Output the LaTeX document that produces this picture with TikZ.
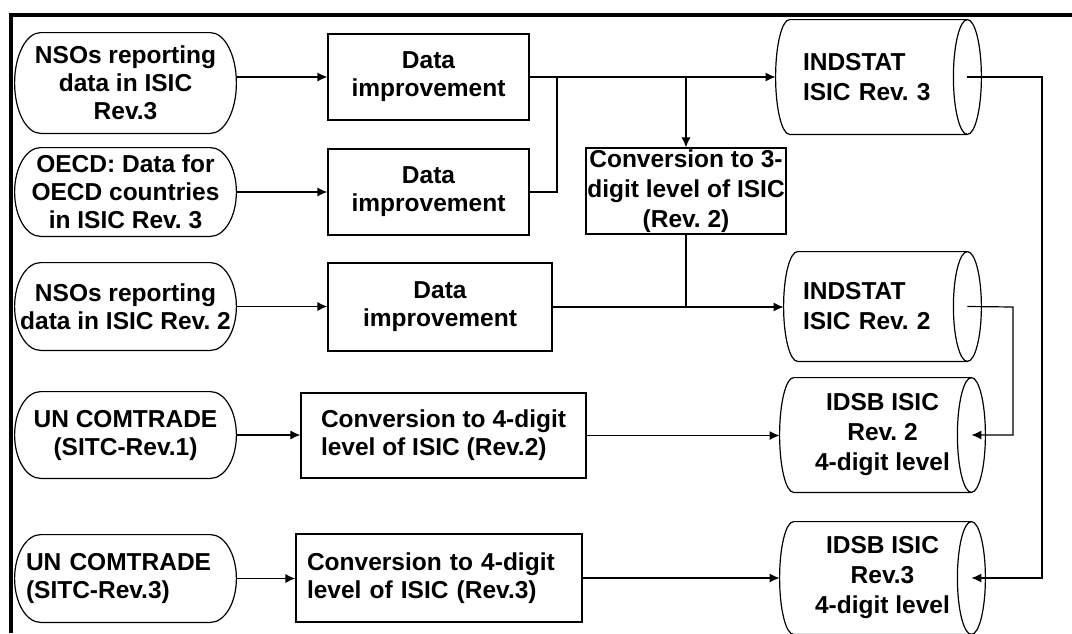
\documentclass[tikz,border=0pt]{standalone}
\usepackage{fontspec}
\setmainfont{Liberation Sans}
\usetikzlibrary{arrows.meta,calc}
\frenchspacing

\begin{document}
\begin{tikzpicture}[x=0.5pt, y=-0.5pt,
    every node/.style={font=\fontsize{12.25}{14}\selectfont\bfseries, inner sep=0pt, align=center},
    term/.style={minimum width=110.5pt},
    box/.style={draw, line width=0.6pt},
    drum/.style={font=\fontsize{12.25}{15}\selectfont\bfseries},
    wire/.style={line width=0.6pt},
    arr/.style={line width=0.6pt, -{Latex[length=5pt,width=4.5pt]}}]
  \useasboundingbox (0,0) rectangle (1072,633);
  \draw[line width=2pt] (1072,15) -- (11,15) -- (11,633);

  \node[term, minimum height=50pt] (src1) at (125.5,83) {NSOs reporting\\data in ISIC\\Rev.3};
  \node[term, minimum height=44pt] (src2) at (125.5,192) {OECD: Data for\\OECD countries\\in ISIC Rev. 3};
  \node[term, minimum height=43.5pt] (src3) at (125.5,306.5) {NSOs reporting\\data in ISIC Rev. 2};
  \node[term, minimum height=43pt] (src4) at (125.5,435) {UN COMTRADE\\(SITC-Rev.1)};
  \node[term, minimum height=43.5pt, text width=99.5pt, align=left] (src5) at (125.5,578.5) {UN COMTRADE\\(SITC-Rev.3)};

  \node[box, minimum width=100.5pt, minimum height=43pt] (d1) at (428.5,77) {Data\\improvement};
  \node[box, minimum width=100.5pt, minimum height=43pt] (d2) at (428.5,192) {Data\\improvement};
  \node[box, minimum width=112pt, minimum height=44pt] (d3) at (440,307) {Data\\improvement};
  \node[box, drum, minimum width=100pt, minimum height=43pt] (c3) at (686,191) {Conversion to 3-\\digit level of ISIC\\(Rev. 2)};
  \node[box, minimum width=142.5pt, minimum height=42.5pt, align=left] (c4a) at (443.5,435.5) {Conversion to 4-digit\\level of ISIC (Rev.2)};
  \node[box, minimum width=143pt, minimum height=44pt, text width=132pt, align=left] (c4b) at (439,578) {Conversion to 4-digit\\level of ISIC (Rev.3)};

  \node[drum, minimum width=102.5pt, minimum height=57pt, text width=75.5pt, align=left] (ind3) at (878.5,77) {INDSTAT\\ISIC Rev. 3};
  \node[drum, minimum width=98.5pt, minimum height=54.5pt, text width=79.5pt, align=left] (ind2) at (882.5,306.5) {INDSTAT\\ISIC Rev. 2};
  \node[drum, minimum width=102.5pt, minimum height=57pt] (idsb2) at (882.5,435) {IDSB ISIC\\Rev. 2\\4-digit level};
  \node[drum, minimum width=102.5pt, minimum height=56pt] (idsb3) at (882.5,578) {IDSB ISIC\\Rev.3\\4-digit level};

  \foreach \s/\rad in {src1/13pt,src2/13pt,src3/13pt,src4/13pt,src5/13pt,ind3/7pt,ind2/7pt,idsb2/7pt,idsb3/7pt}{
      \draw[wire] let \p1=(\s.north), \p2=(\s.center), \n1={\y1-\y2} in
          ([xshift=\rad]\s.north west) -- ([xshift=-\rad]\s.north east)
          arc[start angle=90, end angle=-90, x radius=\rad, y radius=\n1]
          -- ([xshift=\rad]\s.south west)
          arc[start angle=270, end angle=90, x radius=\rad, y radius=\n1] -- cycle;
  }
  \foreach \s in {ind3,ind2,idsb2,idsb3}{
      \draw[wire] let \p1=(\s.north), \p2=(\s.center), \n1={\y1-\y2} in
          ([xshift=-7pt]\s.north east) arc[start angle=90, end angle=270, x radius=7pt, y radius=\n1];
  }

  \draw[arr] (src1.east |- d1.west) -- (d1.west);
  \foreach \a/\b in {src2/d2, src3/d3, src4/c4a, src5/c4b}{
      \draw[arr] (\a.east) -- (\a.east -| \b.west);
  }

  \coordinate (j1) at (557,77);
  \coordinate (bus3) at (1042,77);
  \coordinate (bus2) at (1013,307);
  \draw[arr] (d1.east) -- (ind3.west);
  \draw[wire] (d2.east) -| (j1);
  \draw[arr] (c3.north |- d1.east) -- (c3.north);
  \draw[wire] (c3.south) -- (c3.south |- d3.east);
  \draw[arr] (d3.east) -- (d3.east -| ind2.west);
  \draw[arr] (c4a.east) -- (c4a.east -| idsb2.west);
  \draw[arr] (c4b.east) -- (c4b.east -| idsb3.west);
  \draw[arr] ([xshift=-7pt]ind3.east) -- (bus3) |- ([xshift=-7pt]idsb3.east);
  \draw[arr] ([xshift=-7pt]ind2.east) -- (bus2) |- ([xshift=-7pt]idsb2.east);
\end{tikzpicture}
\end{document}
